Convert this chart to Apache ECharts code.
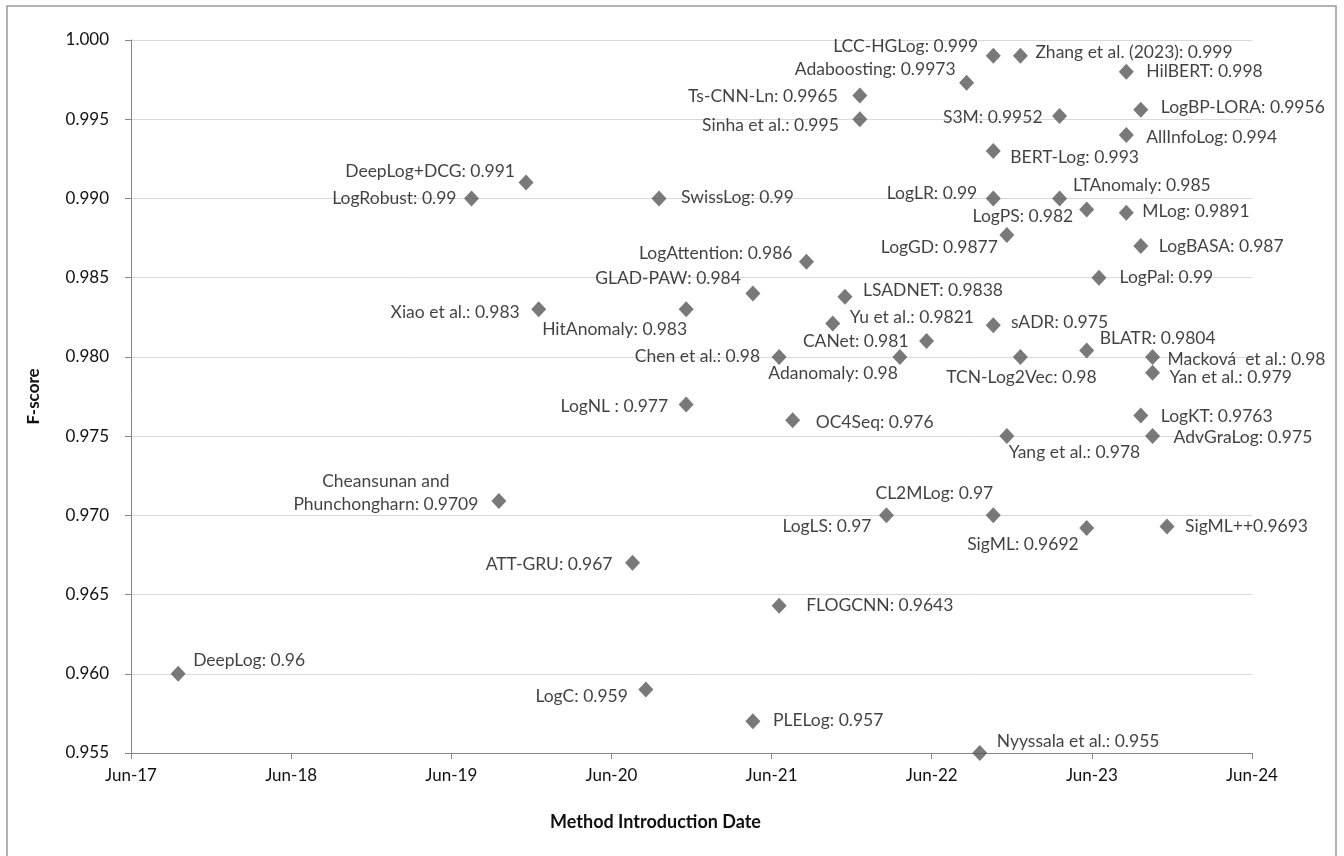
<!DOCTYPE html>
<html>
<head>
<meta charset="utf-8">
<title>F-score by method introduction date</title>
<script src="https://cdn.jsdelivr.net/npm/echarts@6/dist/echarts.min.js"></script>
<style>
  html, body { margin: 0; padding: 0; background: #ffffff; }
  #chart { width: 1344px; height: 856px; }
</style>
</head>
<body>
<div id="chart"></div>
<script>
// ---- data -------------------------------------------------------------
// Printed text of each point label
const labelTexts = [
  'DeepLog: 0.96',
  'LogRobust: 0.99',
  'Cheansunan and\nPhunchongharn: 0.9709',
  'DeepLog+DCG: 0.991',
  'Xiao et al.: 0.983',
  'ATT-GRU: 0.967',
  'LogC: 0.959',
  'SwissLog: 0.99',
  'HitAnomaly: 0.983',
  'LogNL : 0.977',
  'GLAD-PAW: 0.984',
  'PLELog: 0.957',
  'Chen et al.: 0.98',
  'FLOGCNN: 0.9643',
  'OC4Seq: 0.976',
  'LogAttention: 0.986',
  'Yu et al.: 0.9821',
  'LSADNET: 0.9838',
  'Ts-CNN-Ln: 0.9965',
  'Sinha et al.: 0.995',
  'LogLS: 0.97',
  'Adanomaly: 0.98',
  'CANet: 0.981',
  'Adaboosting: 0.9973',
  'Nyyssala et al.: 0.955',
  'LCC-HGLog: 0.999',
  'BERT-Log: 0.993',
  'LogLR: 0.99',
  'CL2MLog: 0.97',
  'LogPS: 0.982',
  'LogGD: 0.9877',
  'sADR: 0.975',
  'Zhang et al. (2023): 0.999',
  'TCN-Log2Vec: 0.98',
  'S3M: 0.9952',
  'LogPal: 0.99',
  'Yang et al.: 0.978',
  'BLATR: 0.9804',
  'SigML: 0.9692',
  'LTAnomaly: 0.985',
  'HilBERT: 0.998',
  'AllInfoLog: 0.994',
  'MLog: 0.9891',
  'LogBP-LORA: 0.9956',
  'LogBASA: 0.987',
  'LogKT: 0.9763',
  'Macková  et al.: 0.98',
  'Yan et al.: 0.979',
  'AdvGraLog: 0.975',
  'SigML++0.9693'
];

// Introduction date of each method
const introDates = [
  '2017-09-17', '2019-07-17', '2019-09-18', '2019-11-19', '2019-12-18',
  '2020-07-19', '2020-08-19', '2020-09-18', '2020-11-19', '2020-11-19',
  '2021-04-19', '2021-04-19', '2021-06-18', '2021-06-18', '2021-07-19',
  '2021-08-20', '2021-10-19', '2021-11-16', '2021-12-20', '2021-12-20',
  '2022-02-18', '2022-03-20', '2022-05-20', '2022-08-20', '2022-09-19',
  '2022-10-20', '2022-10-20', '2022-10-20', '2022-10-20', '2022-10-20',
  '2022-11-20', '2022-11-20', '2022-12-21', '2022-12-21', '2023-03-19',
  '2023-03-19', '2023-05-20', '2023-05-20', '2023-05-20', '2023-06-17',
  '2023-08-19', '2023-08-19', '2023-08-19', '2023-09-21', '2023-09-21',
  '2023-09-21', '2023-10-18', '2023-10-18', '2023-10-18', '2023-11-20'
];

// F-score of each method
const fScores = [
  0.96, 0.99, 0.9709, 0.991, 0.983,
  0.967, 0.959, 0.99, 0.983, 0.977,
  0.984, 0.957, 0.98, 0.9643, 0.976,
  0.986, 0.9821, 0.9838, 0.9965, 0.995,
  0.97, 0.98, 0.981, 0.9973, 0.955,
  0.999, 0.993, 0.99, 0.97, 0.982,
  0.9877, 0.975, 0.999, 0.98, 0.9952,
  0.99, 0.9893, 0.9804, 0.9692, 0.985,
  0.998, 0.994, 0.9891, 0.9956, 0.987,
  0.9763, 0.98, 0.979, 0.975, 0.9693
];

const xTickLabels = ['Jun-17', 'Jun-18', 'Jun-19', 'Jun-20', 'Jun-21', 'Jun-22', 'Jun-23', 'Jun-24'];

// ---- label placement (align, dx, dy from the marker centre) -------------
const labelPlacement = [
  ['left', 15, -13], ['right', -15, 0], ['center', -113, -8], ['right', -11, -11], ['right', -19, 3],
  ['right', -20, 1], ['right', -18, 7], ['left', 22, -1], ['right', 1, 20], ['right', -18, 2],
  ['right', -12, -15], ['left', 20, -1], ['right', -19, -1], ['left', 27, 0], ['left', 23, 2],
  ['right', -14, -8], ['left', 17, -6], ['left', 18, -6], ['right', -22, 1], ['right', -21, 6],
  ['right', -15, 11], ['right', -2, 16], ['right', -18, 0], ['right', -11, -13], ['left', 17, -12],
  ['right', -15, -9], ['left', 17, 6], ['right', -16, -5], ['right', 0, -22], ['right', 80, -109],
  ['right', -9, 12], ['left', 4, -114], ['left', 15, -3], ['center', 1, 20], ['right', -17, 1],
  ['left', 60, 79], ['left', -78, 243], ['left', 13, -12], ['right', -8, 16], ['left', -26, -92],
  ['left', 20, 0], ['left', 20, 2], ['left', 16, -1], ['left', 20, -2], ['left', 18, 0],
  ['left', 20, 1], ['left', 15, 2], ['left', 17, 5], ['left', 21, 1], ['left', 18, 0]
];

// ---- helpers ------------------------------------------------------------
// x coordinate: months elapsed since 1 June 2017
function monthsSinceStart(dateStr) {
  const [y, m, d] = dateStr.split('-').map(Number);
  const daysInMonth = new Date(Date.UTC(y, m, 0)).getUTCDate();
  return (y - 2017) * 12 + (m - 6) + (d - 1) / daysInMonth;
}

const FONT = 'Lato, "Noto Sans", sans-serif';
const TEXT_COLOR = '#111111';
const AXIS_COLOR = '#868686';

const points = introDates.map((d, i) => ({
  value: [monthsSinceStart(d), fScores[i]],
  label: {
    align: labelPlacement[i][0],
    offset: [labelPlacement[i][1], labelPlacement[i][2]]
  }
}));

// ---- chart --------------------------------------------------------------
const chart = echarts.init(document.getElementById('chart'), null, { renderer: 'canvas' });

chart.setOption({
  backgroundColor: '#ffffff',
  animation: false,
  graphic: [{
    type: 'rect',
    silent: true,
    shape: { x: 7, y: 6, width: 1329, height: 900 },
    style: { fill: 'none', stroke: '#9a9a9a', lineWidth: 1.5 }
  }],
  grid: { left: 131, right: 92, top: 40, bottom: 103, containLabel: false },
  xAxis: {
    type: 'value',
    min: 0,
    max: 84,
    interval: 12,
    name: 'Method Introduction Date',
    nameLocation: 'middle',
    nameGap: 60,
    nameTextStyle: {
      fontFamily: FONT, fontSize: 18, fontWeight: 'bold', color: TEXT_COLOR,
      padding: [0, 72, 0, 0]
    },
    axisLine: { show: true, lineStyle: { color: AXIS_COLOR, width: 1 } },
    axisTick: { show: true, length: 6, lineStyle: { color: AXIS_COLOR } },
    axisLabel: {
      margin: 14,
      fontFamily: FONT, fontSize: 17, color: TEXT_COLOR,
      formatter: v => xTickLabels[Math.round(v / 12)]
    },
    splitLine: { show: false }
  },
  yAxis: {
    type: 'value',
    min: 0.955,
    max: 1.0,
    interval: 0.005,
    name: 'F-score',
    nameLocation: 'middle',
    nameGap: 89,
    nameTextStyle: { fontFamily: FONT, fontSize: 17, fontWeight: 'bold', color: TEXT_COLOR },
    axisLine: { show: true, lineStyle: { color: AXIS_COLOR, width: 1 } },
    axisTick: { show: true, length: 6, lineStyle: { color: AXIS_COLOR } },
    axisLabel: {
      margin: 22,
      fontFamily: FONT, fontSize: 17, color: TEXT_COLOR,
      formatter: v => v.toFixed(3)
    },
    splitLine: { show: true, lineStyle: { color: '#d9d9d9', width: 1 } }
  },
  series: [{
    type: 'scatter',
    symbol: 'diamond',
    symbolSize: [15, 16],
    itemStyle: { color: '#575757' },
    label: {
      show: true,
      position: 'inside',
      verticalAlign: 'middle',
      fontFamily: FONT,
      fontSize: 17.5,
      lineHeight: 23,
      color: TEXT_COLOR,
      textBorderWidth: 0,
      formatter: p => labelTexts[p.dataIndex]
    },
    emphasis: { disabled: true },
    data: points
  }]
});
</script>
</body>
</html>
